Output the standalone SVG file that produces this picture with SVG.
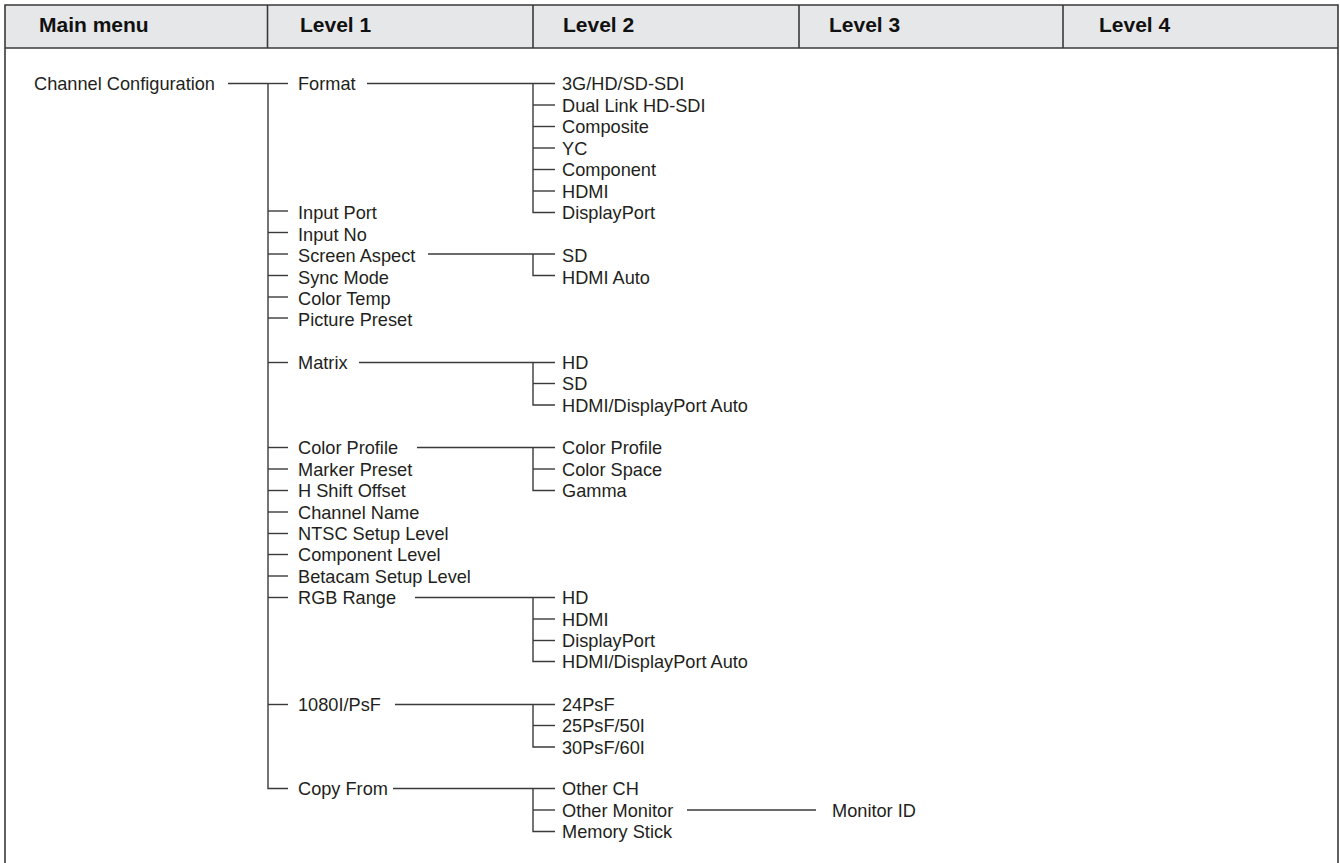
<svg xmlns="http://www.w3.org/2000/svg" width="1340" height="863" viewBox="0 0 1340 863">
<style>
.t{font-family:"Liberation Sans",Arial,sans-serif;font-size:18.2px;fill:#231f20}
.h{font-family:"Liberation Sans",Arial,sans-serif;font-size:21px;font-weight:bold;fill:#111}
.c line,.c path{stroke:#3a3a3a;stroke-width:1.4;fill:none}
.f{stroke:#3a3a3a;stroke-width:1.6;fill:none}
</style>
<g id="frame">
<rect x="5" y="5" width="1333" height="43" fill="#e6e7e8"/>
<path class="f" d="M5,870 V5 H1338 V870"/>
<line class="f" x1="5" y1="48" x2="1338" y2="48" stroke-width="2"/>
<line class="f" x1="267.5" y1="5" x2="267.5" y2="48"/>
<line class="f" x1="533" y1="5" x2="533" y2="48"/>
<line class="f" x1="799" y1="5" x2="799" y2="48"/>
<line class="f" x1="1063" y1="5" x2="1063" y2="48"/>
<text class="h" x="39" y="32">Main menu</text>
<text class="h" x="300" y="32">Level 1</text>
<text class="h" x="563" y="32">Level 2</text>
<text class="h" x="829" y="32">Level 3</text>
<text class="h" x="1099" y="32">Level 4</text>
</g>
<g id="connectors" class="c">
<line x1="228" y1="83.5" x2="268" y2="83.5"/>
<path d="M268,83.5 V788.5 H288"/>
<line x1="268" y1="83.5" x2="288" y2="83.5"/>
<line x1="268" y1="211" x2="288" y2="211"/>
<line x1="268" y1="232.5" x2="288" y2="232.5"/>
<line x1="268" y1="254" x2="288" y2="254"/>
<line x1="268" y1="275.5" x2="288" y2="275.5"/>
<line x1="268" y1="297" x2="288" y2="297"/>
<line x1="268" y1="318" x2="288" y2="318"/>
<line x1="268" y1="362.5" x2="288" y2="362.5"/>
<line x1="268" y1="447.5" x2="288" y2="447.5"/>
<line x1="268" y1="469" x2="288" y2="469"/>
<line x1="268" y1="490.5" x2="288" y2="490.5"/>
<line x1="268" y1="512" x2="288" y2="512"/>
<line x1="268" y1="533.5" x2="288" y2="533.5"/>
<line x1="268" y1="554.5" x2="288" y2="554.5"/>
<line x1="268" y1="576" x2="288" y2="576"/>
<line x1="268" y1="597.5" x2="288" y2="597.5"/>
<line x1="268" y1="704.5" x2="288" y2="704.5"/>
<line x1="367" y1="83.5" x2="555" y2="83.5"/>
<path d="M533,83.5 V212.5 H555"/>
<line x1="533" y1="105" x2="555" y2="105"/>
<line x1="533" y1="126.5" x2="555" y2="126.5"/>
<line x1="533" y1="148" x2="555" y2="148"/>
<line x1="533" y1="169.5" x2="555" y2="169.5"/>
<line x1="533" y1="191" x2="555" y2="191"/>
<line x1="428" y1="254" x2="555" y2="254"/>
<path d="M533,254 V275.5 H555"/>
<line x1="359" y1="362.5" x2="555" y2="362.5"/>
<path d="M533,362.5 V405 H555"/>
<line x1="533" y1="383.5" x2="555" y2="383.5"/>
<line x1="417" y1="447.5" x2="555" y2="447.5"/>
<path d="M533,447.5 V490.5 H555"/>
<line x1="533" y1="469" x2="555" y2="469"/>
<line x1="415" y1="597.5" x2="555" y2="597.5"/>
<path d="M533,597.5 V661.5 H555"/>
<line x1="533" y1="619" x2="555" y2="619"/>
<line x1="533" y1="640.5" x2="555" y2="640.5"/>
<line x1="395" y1="704.5" x2="555" y2="704.5"/>
<path d="M533,704.5 V747 H555"/>
<line x1="533" y1="725.5" x2="555" y2="725.5"/>
<line x1="393" y1="788.5" x2="555" y2="788.5"/>
<path d="M533,788.5 V831.5 H555"/>
<line x1="533" y1="810" x2="555" y2="810"/>
<line x1="687" y1="810" x2="816" y2="810"/>
</g>
<g id="n-main"><text class="t" x="34" y="90">Channel Configuration</text></g>
<g id="n-level1">
<text class="t" x="298" y="90">Format</text>
<text class="t" x="298" y="219">Input Port</text>
<text class="t" x="298" y="240.5">Input No</text>
<text class="t" x="298" y="262">Screen Aspect</text>
<text class="t" x="298" y="283.5">Sync Mode</text>
<text class="t" x="298" y="305">Color Temp</text>
<text class="t" x="298" y="326">Picture Preset</text>
<text class="t" x="298" y="369">Matrix</text>
<text class="t" x="298" y="454">Color Profile</text>
<text class="t" x="298" y="475.5">Marker Preset</text>
<text class="t" x="298" y="497">H Shift Offset</text>
<text class="t" x="298" y="518.5">Channel Name</text>
<text class="t" x="298" y="540">NTSC Setup Level</text>
<text class="t" x="298" y="561">Component Level</text>
<text class="t" x="298" y="582.5">Betacam Setup Level</text>
<text class="t" x="298" y="604">RGB Range</text>
<text class="t" x="298" y="711">1080I/PsF</text>
<text class="t" x="298" y="795">Copy From</text>
</g>
<g id="n-level2">
<text class="t" x="562" y="90">3G/HD/SD-SDI</text>
<text class="t" x="562" y="111.5">Dual Link HD-SDI</text>
<text class="t" x="562" y="133">Composite</text>
<text class="t" x="562" y="154.5">YC</text>
<text class="t" x="562" y="176">Component</text>
<text class="t" x="562" y="197.5">HDMI</text>
<text class="t" x="562" y="219">DisplayPort</text>
<text class="t" x="562" y="262">SD</text>
<text class="t" x="562" y="283.5">HDMI Auto</text>
<text class="t" x="562" y="369">HD</text>
<text class="t" x="562" y="390">SD</text>
<text class="t" x="562" y="411.5">HDMI/DisplayPort Auto</text>
<text class="t" x="562" y="454">Color Profile</text>
<text class="t" x="562" y="475.5">Color Space</text>
<text class="t" x="562" y="497">Gamma</text>
<text class="t" x="562" y="604">HD</text>
<text class="t" x="562" y="625.5">HDMI</text>
<text class="t" x="562" y="647">DisplayPort</text>
<text class="t" x="562" y="668">HDMI/DisplayPort Auto</text>
<text class="t" x="562" y="711">24PsF</text>
<text class="t" x="562" y="732">25PsF/50I</text>
<text class="t" x="562" y="753.5">30PsF/60I</text>
<text class="t" x="562" y="795">Other CH</text>
<text class="t" x="562" y="816.5">Other Monitor</text>
<text class="t" x="562" y="838">Memory Stick</text>
</g>
<g id="n-level3"><text class="t" x="832" y="816.5">Monitor ID</text></g>
</svg>
